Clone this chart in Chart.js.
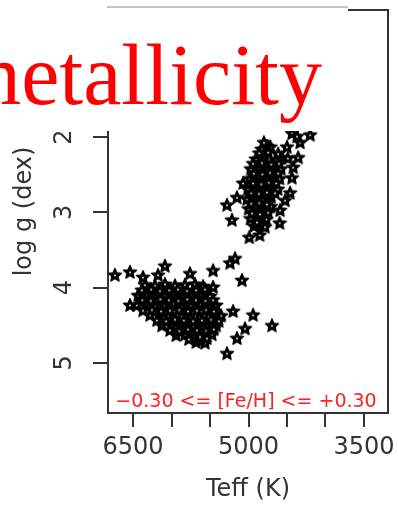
<!DOCTYPE html>
<html>
<head>
<meta charset="utf-8">
<script src="https://cdn.jsdelivr.net/npm/chart.js@4.4.1/dist/chart.umd.min.js"></script>
<style>
  html, body { margin: 0; padding: 0; background: #fff; }
  canvas { display: block; }
</style>
</head>
<body>
<canvas id="hr" width="398" height="505"></canvas>
<script>
// Teff / log g of the stars in the -0.30..+0.30 [Fe/H] bin
const giantStars = [
  [4830, 2.16], [4715, 2.13], [4905, 2.29], [4790, 2.26], [4650, 2.30], [4570, 2.27],
  [4970, 2.42], [4860, 2.40], [4755, 2.43], [4660, 2.39], [4580, 2.42],
  [4985, 2.55], [4870, 2.53], [4775, 2.56], [4665, 2.52], [4595, 2.55],
  [5010, 2.69], [4900, 2.67], [4800, 2.70], [4690, 2.66], [4620, 2.69],
  [5020, 2.82], [4910, 2.80], [4815, 2.83], [4705, 2.79],
  [5000, 2.95], [4905, 2.93], [4795, 2.96], [4710, 2.92],
  [4975, 3.08], [4880, 3.07], [4770, 3.09], [4930, 3.18], [4825, 3.17],
  [4860, 2.21], [4745, 2.20], [4615, 2.22],
  [4940, 2.35], [4825, 2.34], [4705, 2.36], [4605, 2.35],
  [4930, 2.48], [4820, 2.49], [4720, 2.47], [4615, 2.48],
  [4940, 2.61], [4835, 2.62], [4735, 2.60], [4640, 2.61],
  [4965, 2.74], [4865, 2.75], [4760, 2.73], [4655, 2.74],
  [4965, 2.88], [4860, 2.87], [4760, 2.89],
  [4955, 3.01], [4850, 3.02], [4745, 3.00], [4890, 3.13],
  [4435, 1.95], [4330, 2.07], [4200, 1.97], [4370, 1.99], [4500, 2.13],
  [4490, 2.28], [4355, 2.27], [4420, 2.40], [4435, 2.54], [4460, 2.74],
  [4525, 2.84], [4590, 2.97], [4595, 3.14], [4760, 2.12], [4800, 2.07],
  [5070, 2.61], [5150, 2.80], [5280, 2.90], [5215, 3.10],
  [4990, 3.33], [4855, 3.30], [4785, 3.19]
];
const subgiantStars = [
  [5175, 3.61], [5240, 3.67], [5085, 3.90], [5460, 3.77], [5460, 3.99]
];
const dwarfStars = [
  [6345, 3.96], [6215, 3.97], [6085, 3.95], [5955, 3.97], [5825, 3.96], [5695, 3.95], [5590, 3.98],
  [6435, 4.10], [6320, 4.09], [6200, 4.11], [6085, 4.10], [5965, 4.08], [5850, 4.11], [5735, 4.10], [5615, 4.09], [5500, 4.11],
  [6450, 4.23], [6330, 4.22], [6215, 4.24], [6095, 4.23], [5980, 4.21], [5865, 4.24], [5745, 4.23], [5630, 4.22], [5515, 4.24], [5420, 4.23],
  [6280, 4.36], [6160, 4.35], [6045, 4.37], [5930, 4.36], [5810, 4.34], [5695, 4.37], [5580, 4.36], [5460, 4.35], [5355, 4.37],
  [6125, 4.50], [6005, 4.49], [5890, 4.51], [5775, 4.50], [5655, 4.48], [5540, 4.51], [5420, 4.50],
  [5940, 4.63], [5825, 4.62], [5710, 4.64], [5590, 4.63], [5475, 4.62],
  [5680, 4.72], [5565, 4.73],
  [6385, 4.03], [6265, 4.02], [6150, 4.04], [6030, 4.03], [5915, 4.02], [5800, 4.04], [5680, 4.03], [5565, 4.02],
  [6380, 4.16], [6270, 4.17], [6145, 4.15], [6035, 4.16], [5910, 4.17], [5795, 4.15], [5685, 4.16], [5560, 4.17], [5460, 4.16],
  [6370, 4.30], [6255, 4.29], [6135, 4.31], [6020, 4.30], [5900, 4.29], [5785, 4.31], [5670, 4.30], [5550, 4.29], [5450, 4.31],
  [6190, 4.43], [6070, 4.44], [5955, 4.42], [5840, 4.43], [5720, 4.44], [5605, 4.43], [5485, 4.42], [5385, 4.44],
  [6020, 4.56], [5900, 4.57], [5785, 4.55], [5670, 4.56], [5550, 4.57], [5450, 4.55],
  [5775, 4.68], [5655, 4.69], [5540, 4.67],
  [6735, 3.83], [6540, 3.79], [6370, 3.86], [6175, 3.83], [6085, 3.71], [5760, 3.81],
  [6540, 4.23], [5200, 4.31], [4940, 4.36], [4695, 4.50], [5045, 4.54],
  [5150, 4.67], [5280, 4.87], [5630, 4.65]
];

const teffTicks = [6500, 6000, 5500, 5000, 4500, 4000, 3500];
const teffLabels = [6500, 5000, 3500];
const loggTicks = [2, 3, 4, 5];
const feLabel = '\u22120.30 <= [Fe/H] <= +0.30';

// bold five-pointed star with a pinhole, used as the point marker
function makeStar(size) {
  const c = document.createElement('canvas');
  c.width = c.height = size;
  const g = c.getContext('2d');
  const cx = size / 2, cy = size / 2 + 0.5;
  const ro = size / 2 - 1, ri = ro * 0.46;
  g.beginPath();
  for (let i = 0; i < 10; i++) {
    const r = i % 2 ? ri : ro;
    const a = -Math.PI / 2 + i * Math.PI / 5;
    g.lineTo(cx + r * Math.cos(a), cy + r * Math.sin(a));
  }
  g.closePath();
  g.fillStyle = '#000';
  g.fill();
  g.lineWidth = 1.3;
  g.lineJoin = 'round';
  g.strokeStyle = '#000';
  g.stroke();
  g.fillStyle = '#fff';
  g.beginPath();
  g.arc(cx, cy, 0.9, 0, Math.PI * 2);
  g.fill();
  return c;
}
const star = makeStar(16);

const toPoints = list => list.map(([t, g]) => ({ x: t, y: g }));

const axisFont = { family: "'DejaVu Sans'", size: 24 };
const ink = '#333';

// box around the plot, the title panel and the [Fe/H] label
const frame = {
  id: 'frame',
  afterDraw(chart) {
    const { ctx, chartArea: a } = chart;
    ctx.save();
    ctx.strokeStyle = ink;
    ctx.lineWidth = 2;
    ctx.beginPath();
    ctx.moveTo(a.left, a.top);
    ctx.lineTo(a.right, a.top);
    ctx.lineTo(a.right, a.bottom);
    ctx.stroke();

    ctx.fillStyle = '#fff';
    ctx.fillRect(0, 0, 348, 131);
    ctx.strokeStyle = '#b0b0b0';
    ctx.lineWidth = 1.5;
    ctx.beginPath();
    ctx.moveTo(107, 7);
    ctx.lineTo(348, 7);
    ctx.stroke();

    ctx.fillStyle = '#ff0000';
    ctx.font = "86px 'Liberation Serif'";
    ctx.textAlign = 'right';
    ctx.textBaseline = 'alphabetic';
    ctx.fillText('metallicity', 322, 104);

    ctx.font = "19px 'DejaVu Sans'";
    ctx.fillStyle = '#ff2020';
    ctx.textAlign = 'center';
    ctx.fillText(feLabel, (a.left + a.right) / 2 - 2, a.bottom - 6);
    ctx.restore();
  }
};

const noPad = s => { s.paddingTop = s.paddingBottom = s.paddingLeft = s.paddingRight = 0; };

new Chart(document.getElementById('hr'), {
  type: 'scatter',
  data: {
    datasets: [
      { data: toPoints(dwarfStars), pointStyle: star, pointRadius: 6 },
      { data: toPoints(subgiantStars), pointStyle: star, pointRadius: 6 },
      { data: toPoints(giantStars), pointStyle: star, pointRadius: 6 }
    ]
  },
  options: {
    responsive: false,
    animation: false,
    layout: { padding: { top: 10, right: 10, left: 0, bottom: 0 } },
    plugins: { legend: { display: false }, tooltip: { enabled: false } },
    scales: {
      x: {
        type: 'linear',
        reverse: true,
        min: 3188,
        max: 6825,
        afterFit: s => { s.height = 92; noPad(s); },
        afterBuildTicks: s => { s.ticks = teffTicks.map(v => ({ value: v })); },
        grid: { drawOnChartArea: false, drawTicks: true, tickLength: 14, color: ink, lineWidth: 2 },
        border: { display: true, color: ink, width: 2 },
        ticks: {
          autoSkip: false,
          maxRotation: 0,
          padding: 6,
          color: ink,
          font: axisFont,
          callback: v => teffLabels.includes(v) ? String(v) : ''
        },
        title: { display: true, text: 'Teff (K)', color: ink, font: axisFont, padding: { top: 0, bottom: 1 } }
      },
      y: {
        type: 'linear',
        reverse: true,
        min: 0.314,
        max: 5.664,
        afterFit: s => { s.width = 108; noPad(s); },
        afterBuildTicks: s => { s.ticks = loggTicks.map(v => ({ value: v })); },
        grid: { drawOnChartArea: false, drawTicks: true, tickLength: 15, color: ink, lineWidth: 2 },
        border: { display: true, color: ink, width: 2 },
        ticks: {
          autoSkip: false,
          minRotation: 90,
          maxRotation: 90,
          crossAlign: 'center',
          padding: 21,
          color: ink,
          font: axisFont
        },
        title: { display: true, text: 'log g (dex)', color: ink, font: axisFont, padding: { top: 10, bottom: 0 } }
      }
    }
  },
  plugins: [frame]
});
</script>
</body>
</html>
